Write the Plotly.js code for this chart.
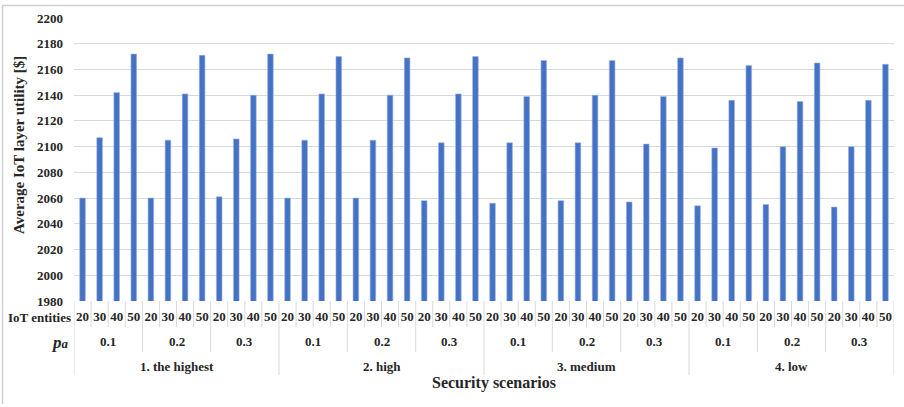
<!DOCTYPE html>
<html>
<head>
<meta charset="utf-8">
<script src="https://cdn.plot.ly/plotly-3.0.1.min.js"></script>
<style>html,body{margin:0;padding:0;background:#fff}#chart{width:904px;height:407px}</style>
</head>
<body>
<div id="chart"></div>
<script>
const scenarios = ["1. the highest", "2. high", "3. medium", "4. low"];
const paLevels = ["0.1", "0.2", "0.3"];
const entities = ["20", "30", "40", "50"];
const utility = [
  2060, 2107, 2142, 2172,  2060, 2105, 2141, 2171,  2061, 2106, 2140, 2172,
  2060, 2105, 2141, 2170,  2060, 2105, 2140, 2169,  2058, 2103, 2141, 2170,
  2056, 2103, 2139, 2167,  2058, 2103, 2140, 2167,  2057, 2102, 2139, 2169,
  2054, 2099, 2136, 2163,  2055, 2100, 2135, 2165,  2053, 2100, 2136, 2164
];

const W = 904, H = 407;
const L = 74, R = 10, T = 18, B = 106;
const pw = W - L - R, ph = H - T - B;
const px = v => (v - L) / pw;
const py = v => (H - B - v) / ph;

const n = utility.length;
const xs = utility.map((_, i) => i);
const tickText = utility.map((_, i) => entities[i % entities.length]);

const serif = "Liberation Serif, Times New Roman, serif";
const txtColor = "#262626";
const lineColor = "#D9D9D9";

const shapes = [];
const perScen = paLevels.length * entities.length;
for (let k = 0; k <= n; k++) {
  const xPos = k - 0.5;
  let bottom = 327;
  if (k % perScen === 0) bottom = 375;
  else if (k % entities.length === 0) bottom = 352;
  shapes.push({type: "line", xref: "x", yref: "paper", x0: xPos, x1: xPos,
    y0: 0, y1: py(bottom), line: {color: lineColor, width: 1}});
}
// outer chart frame (top and left)
shapes.push({type: "line", xref: "paper", yref: "paper", x0: px(2), x1: px(906), y0: py(5.5), y1: py(5.5), line: {color: "#D0D0D0", width: 1.5}});
shapes.push({type: "line", xref: "paper", yref: "paper", x0: px(2.5), x1: px(2.5), y0: py(5.5), y1: py(404), line: {color: "#D0D0D0", width: 1.5}});

const annotations = [];
scenarios.forEach((s, si) => {
  paLevels.forEach((p, pi) => {
    const start = si * perScen + pi * entities.length;
    annotations.push({x: start + (entities.length - 1) / 2, xref: "x", y: py(341), yref: "paper",
      text: "<b>" + p + "</b>", showarrow: false, xanchor: "center", yanchor: "middle",
      font: {family: serif, size: 13, color: txtColor}});
  });
  annotations.push({x: si * perScen + (perScen - 1) / 2, xref: "x", y: py(367), yref: "paper",
    text: "<b>" + s + "</b>", showarrow: false, xanchor: "center", yanchor: "middle",
    font: {family: serif, size: 13, color: txtColor}});
});
annotations.push({x: px(73), xref: "paper", y: py(317), yref: "paper", text: "<b>IoT entities</b>",
  showarrow: false, xanchor: "right", yanchor: "middle", font: {family: serif, size: 13, color: txtColor}});
annotations.push({x: px(60), xref: "paper", y: py(342), yref: "paper",
  text: "<b><i><span style=\"font-size:17px\">p</span><span style=\"font-size:13px\">a</span></i></b>",
  showarrow: false, xanchor: "center", yanchor: "middle", font: {family: serif, size: 13, color: txtColor}});
annotations.push({x: px(493.5), xref: "paper", y: py(383), yref: "paper", text: "<b>Security scenarios</b>",
  showarrow: false, xanchor: "center", yanchor: "middle", font: {family: serif, size: 16, color: txtColor}});
annotations.push({x: px(19), xref: "paper", y: py(145), yref: "paper", text: "<b>Average IoT layer utility [$]</b>",
  textangle: -90, showarrow: false, xanchor: "center", yanchor: "middle", font: {family: serif, size: 15, color: txtColor}});

const trace = {
  type: "bar", x: xs, y: utility, width: 0.33,
  marker: {color: "#4472C4", line: {color: "#9DB4E2", width: 0.6}},
  hoverinfo: "y"
};

const layout = {
  width: W, height: H,
  margin: {l: L, r: R, t: T, b: B, pad: 0},
  paper_bgcolor: "#fff", plot_bgcolor: "#fff",
  showlegend: false,
  xaxis: {
    range: [-0.5, n - 0.5], tickmode: "array", tickvals: xs, ticktext: tickText,
    tickfont: {family: serif, size: 13, color: txtColor, weight: 700},
    ticks: "", ticklabelstandoff: 6, showgrid: false, zeroline: false, showline: false, fixedrange: true
  },
  yaxis: {
    range: [1980, 2200], dtick: 20, tick0: 1980,
    tickfont: {family: serif, size: 13, color: txtColor, weight: 700},
    gridcolor: lineColor, gridwidth: 1, ticks: "", ticklabelstandoff: 10,
    zeroline: false, showline: false, fixedrange: true
  },
  shapes: shapes,
  annotations: annotations
};

Plotly.newPlot("chart", [trace], layout, {displayModeBar: false, staticPlot: true});
</script>
</body>
</html>
